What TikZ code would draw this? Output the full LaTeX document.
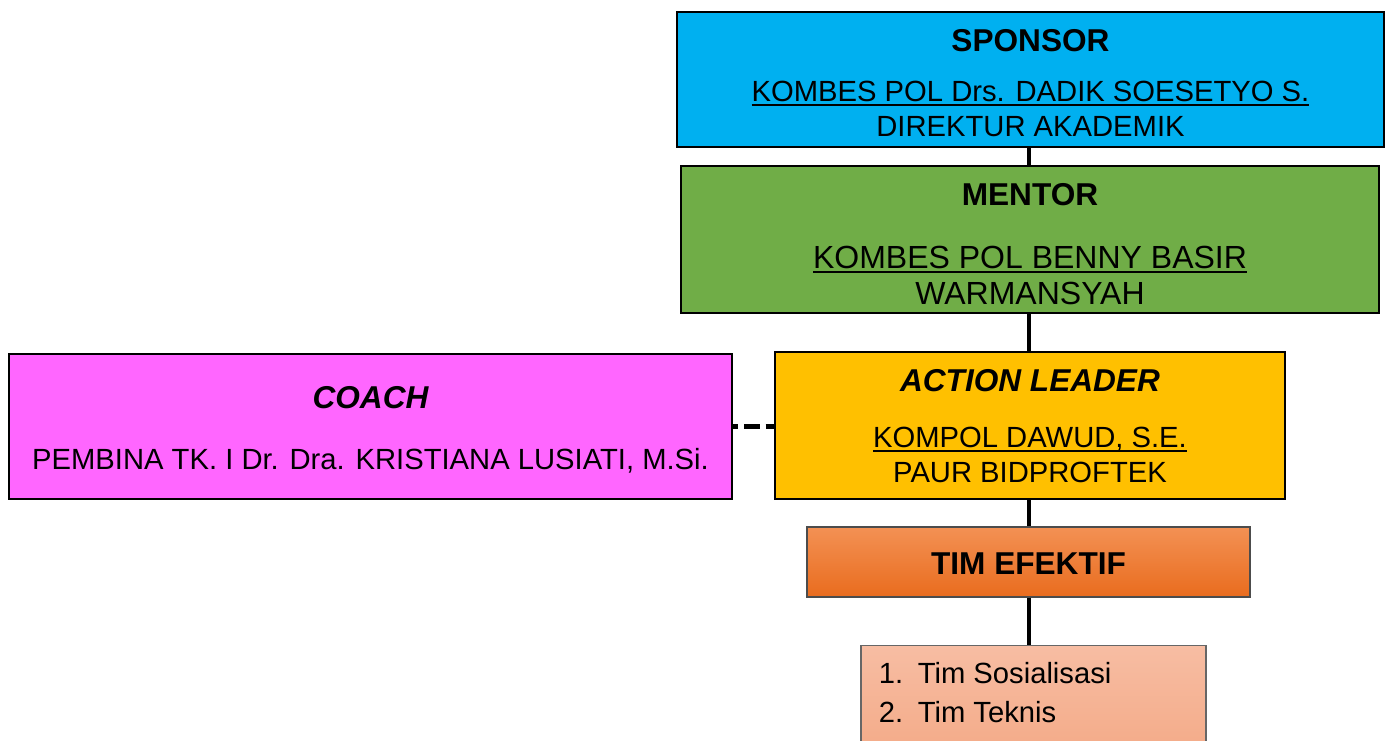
\documentclass[tikz,border=0pt]{standalone}
\usepackage{fontspec}
\setmainfont{Liberation Sans}
\usetikzlibrary{positioning}

\definecolor{sponsorblue}{HTML}{00B0F0}
\definecolor{mentorgreen}{HTML}{70AD47}
\definecolor{coachpink}{HTML}{FF66FF}
\definecolor{leaderyellow}{HTML}{FFC000}
\definecolor{timtop}{HTML}{F39154}
\definecolor{timbottom}{HTML}{E96C1E}
\definecolor{listtop}{HTML}{F7BDA3}
\definecolor{listbottom}{HTML}{F4AC8A}

\newcommand{\boxtitle}[1]{{\fontsize{15.8}{17.5}\selectfont\bfseries #1}}
\newsavebox{\namebox}
\newcommand{\nameline}[1]{\sbox{\namebox}{#1}\rlap{\rule[-2.3pt]{\wd\namebox}{0.9pt}}\usebox{\namebox}}

\tikzset{
  orgbox/.style={draw=black, line width=1pt, inner sep=0pt},
  boxtext/.style={align=center, inner sep=0pt, font=\fontsize{14.6}{17.5}\selectfont},
  spine/.style={line width=2.2pt},
}

\begin{document}
\begin{tikzpicture}[x=0.5pt,y=-0.5pt]
    \clip (0,0) rectangle (1392,740);
    \fill[white] (0,0) rectangle (1392,740);
    \coordinate (axis) at (1029,0);

    % boxes
    \node[orgbox, fill=sponsorblue, minimum width=353.5pt, minimum height=67.5pt] (sponsor) at (1030.5,79.5) {};
    \node[orgbox, fill=mentorgreen, minimum width=349pt, minimum height=73.5pt] (mentor) at (1030,239.5) {};
    \node[orgbox, fill=coachpink, minimum width=361.5pt, minimum height=72.5pt] (coach) at (370.5,426.5) {};
    \node[orgbox, fill=leaderyellow, minimum width=255pt, minimum height=73.5pt] (action) at (1030,425.5) {};
    \node[orgbox, draw=black!70, line width=0.7pt, top color=timtop, bottom color=timbottom,
        minimum width=221.5pt, minimum height=35pt] (tim) at (1028.5,562) {};
    \node[orgbox, draw=black!60, line width=0.6pt, top color=listtop, bottom color=listbottom,
        minimum width=172.5pt, minimum height=50pt, anchor=north] (list) at (1033.5,645) {};

    % texts
    \node[boxtext, below=9pt of sponsor.north] (sponsortext)
        {\boxtitle{SPONSOR}\\[7.5pt] \nameline{KOMBES POL Drs. DADIK SOESETYO S.}\\ DIREKTUR AKADEMIK};
    \node[boxtext, font=\fontsize{16}{18}\selectfont, below=9pt of mentor.north] (mentortext)
        {\boxtitle{MENTOR}\\[13.5pt] \nameline{KOMBES POL BENNY BASIR}\\ WARMANSYAH};
    \node[boxtext, below=16.5pt of coach.north] (coachtext)
        {\boxtitle{\itshape COACH}\\[13pt] PEMBINA TK. I Dr. Dra. KRISTIANA LUSIATI, M.Si.};
    \node[boxtext, below=9pt of action.north] (actiontext)
        {\boxtitle{\itshape ACTION LEADER}\\[10.5pt] \nameline{KOMPOL DAWUD, S.E.}\\ PAUR BIDPROFTEK};
    \node[boxtext, below=13pt of tim.north] (timtext) {\boxtitle{TIM EFEKTIF}};
    \node[boxtext, align=left, below right=8.5pt and 9pt of list.north west] (listtext)
        {\makebox[19.5pt][l]{1.}Tim Sosialisasi\\[2pt]
         \makebox[19.5pt][l]{2.}Tim Teknis};

    % connectors
    \foreach \a/\b in {sponsor/mentor, mentor/action, action/tim, tim/list}
        \draw[spine] (\a.south -| axis) -- (\b.north -| axis);
    \draw[line width=2.2pt, dash pattern=on 7.8pt off 3pt, dash phase=5.3pt]
        (coach.east) -- (coach.east -| action.west);
\end{tikzpicture}
\end{document}
